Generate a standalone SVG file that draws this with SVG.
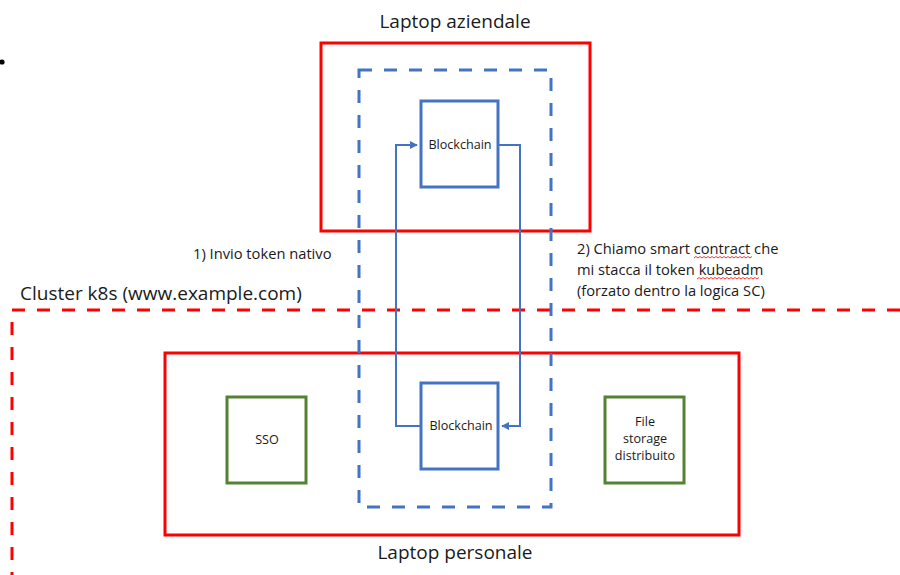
<svg xmlns="http://www.w3.org/2000/svg" width="900" height="575" viewBox="0 0 900 575">
<style>
.txt{font-family:"Open Sans","Liberation Sans",sans-serif;fill:#1a1a1a}
.big{font-size:19px}
.mid{font-size:14.7px}
.sm{font-size:12.6px}
.red{fill:none;stroke:#ff0000;stroke-width:3}
.reddash{fill:none;stroke:#ff0000;stroke-width:3;stroke-dasharray:13 12}
.bluedash{fill:none;stroke:#4472c4;stroke-width:3;stroke-dasharray:13 12}
.blue{fill:#fff;stroke:#4472c4;stroke-width:3}
.green{fill:#fff;stroke:#548235;stroke-width:3}
.conn{fill:none;stroke:#4472c4;stroke-width:2}
.squig{fill:none;stroke:#ff0000;stroke-width:0.8}
</style>
<defs>
<marker id="arr" viewBox="0 0 10 10" refX="9" refY="5" markerWidth="4" markerHeight="4" orient="auto" markerUnits="strokeWidth">
<path d="M0,0 L10,5 L0,10 z" fill="#4472c4"/>
</marker>
</defs>
<circle cx="2" cy="62" r="2.6" fill="#000"/>
<g id="cluster">
<path class="reddash" d="M900,310 L12,310 L12,575"/>
<text class="txt big" x="20" y="300">Cluster k8s (www.example.com)</text>
</g>
<g id="laptop-aziendale">
<rect class="red" x="321" y="43" width="269" height="188"/>
<text class="txt big" x="455" y="28" text-anchor="middle">Laptop aziendale</text>
</g>
<g id="laptop-personale">
<rect class="red" x="165" y="353" width="574" height="182"/>
<text class="txt big" x="455" y="559" text-anchor="middle">Laptop personale</text>
</g>
<g id="blockchain-zone">
<rect class="bluedash" x="359" y="70" width="192" height="437"/>
</g>
<g id="blockchain-top">
<rect class="blue" x="421" y="101" width="77" height="86"/>
<text class="txt sm" x="460" y="149" text-anchor="middle">Blockchain</text>
</g>
<g id="blockchain-bottom">
<rect class="blue" x="421" y="383" width="77" height="86"/>
<text class="txt sm" x="461" y="430" text-anchor="middle">Blockchain</text>
</g>
<g id="sso">
<rect class="green" x="227" y="397" width="79" height="86"/>
<text class="txt sm" x="267" y="444" text-anchor="middle">SSO</text>
</g>
<g id="file-storage">
<rect class="green" x="605" y="397" width="79" height="86"/>
<text class="txt sm" x="645" y="426" text-anchor="middle">File</text>
<text class="txt sm" x="645" y="443" text-anchor="middle">storage</text>
<text class="txt sm" x="645" y="460" text-anchor="middle">distribuito</text>
</g>
<g id="connectors">
<polyline class="conn" points="421,426 396,426 396,145 417,145" marker-end="url(#arr)"/>
<polyline class="conn" points="498,145 520,145 520,426 502,426" marker-end="url(#arr)"/>
</g>
<g id="labels">
<text class="txt mid" x="193" y="259">1) Invio token nativo</text>
<text class="txt mid" x="577" y="254">2) Chiamo smart contract che</text>
<text class="txt mid" x="577" y="275">mi stacca il token kubeadm</text>
<text class="txt mid" x="577" y="296">(forzato dentro la logica SC)</text>
<path class="squig" d="M694,258 l2,-1.5 l2,1.5 l2,-1.5 l2,1.5 l2,-1.5 l2,1.5 l2,-1.5 l2,1.5 l2,-1.5 l2,1.5 l2,-1.5 l2,1.5 l2,-1.5 l2,1.5 l2,-1.5 l2,1.5 l2,-1.5 l2,1.5 l2,-1.5 l2,1.5 l2,-1.5 l2,1.5 l2,-1.5 l2,1.5 l2,-1.5 l2,1.5 l2,-1.5 l2,1.5 l2,-1.5"/>
<path class="squig" d="M697,279 l2,-1.5 l2,1.5 l2,-1.5 l2,1.5 l2,-1.5 l2,1.5 l2,-1.5 l2,1.5 l2,-1.5 l2,1.5 l2,-1.5 l2,1.5 l2,-1.5 l2,1.5 l2,-1.5 l2,1.5 l2,-1.5 l2,1.5 l2,-1.5 l2,1.5 l2,-1.5 l2,1.5 l2,-1.5 l2,1.5 l2,-1.5 l2,1.5 l2,-1.5 l2,1.5 l2,-1.5 l2,1.5 l2,-1.5"/>
</g>
</svg>
